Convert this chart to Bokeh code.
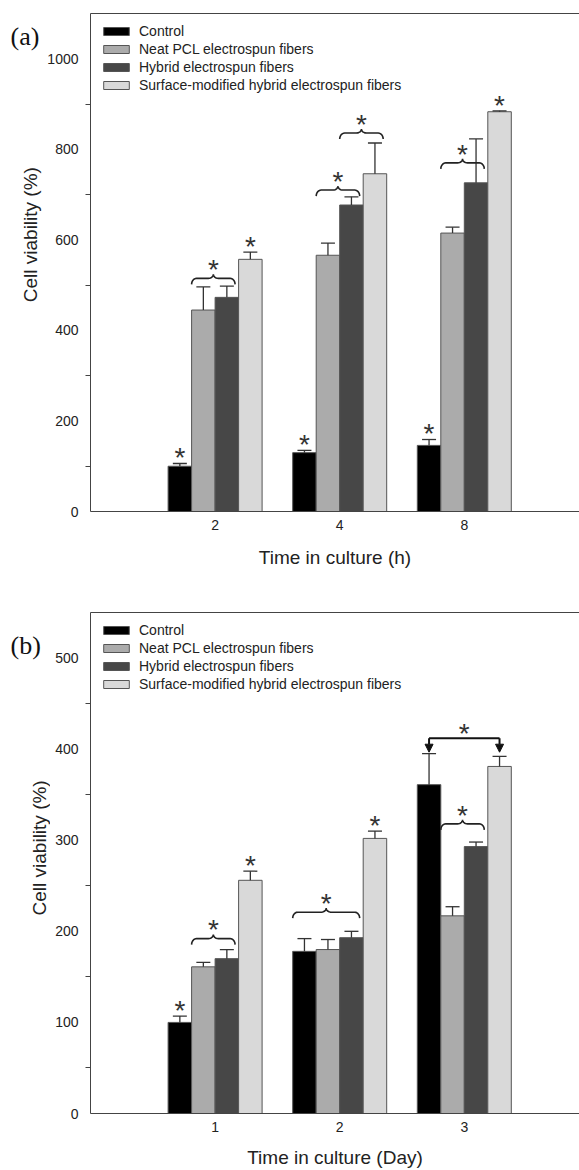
import numpy as np
from bokeh.plotting import figure
from bokeh.models import (FixedTicker, LinearAxis, Range1d, Legend, LegendItem,
                          Arrow, NormalHead)
from bokeh.layouts import column, row
from bokeh.embed import file_html
from bokeh.resources import INLINE
from bokeh.core.properties import value

# ---------------- data ----------------
series = ["Control", "Neat PCL electrospun fibers", "Hybrid electrospun fibers",
          "Surface-modified hybrid electrospun fibers"]
colors = ["#000000", "#ababab", "#474747", "#d9d9d9"]

a_times = ["2", "4", "8"]
a_control = [100, 130, 146]
a_control_err = [6, 5, 13]
a_neat = [445, 566, 615]
a_neat_err = [51, 27, 13]
a_hybrid = [473, 677, 726]
a_hybrid_err = [25, 18, 97]
a_surface = [557, 746, 883]
a_surface_err = [16, 68, 2]

b_days = ["1", "2", "3"]
b_control = [100, 178, 361]
b_control_err = [7, 14, 34]
b_neat = [161, 180, 217]
b_neat_err = [5, 11, 10]
b_hybrid = [170, 193, 293]
b_hybrid_err = [10, 7, 5]
b_surface = [256, 302, 381]
b_surface_err = [10, 8, 11]

# significance annotations: (group, first bar, last bar, brace level)
a_braces = [(0, 1, 2, 515), (1, 1, 2, 710), (1, 2, 3, 836), (2, 1, 2, 770)]
a_stars = [(0, 0), (1, 0), (2, 0), (0, 3), (2, 3)]
b_braces = [(0, 1, 2, 192), (1, 0, 2, 221), (2, 1, 2, 318)]
b_stars = [(0, 0), (0, 3), (1, 3)]
b_arrows = [(2, 0, 3, 412)]

y_title = "Cell viability (%)"

FONT = "Liberation Sans"
PX_PER_CAT = 124.6
FW = 489
BW_PX = 23.5


def brace_path(x0, x1, y, dx, dy):
    t = np.linspace(0, np.pi / 2, 8)
    xm = (x0 + x1) / 2
    he, hm, r = 6 * dy, 4 * dy, 5 * dx
    xs, ys = [], []
    xs += list(x0 + r * (1 - np.cos(t))); ys += list(y - he * (1 - np.sin(t)))
    xs += list(xm - r + r * np.sin(t)); ys += list(y + hm * (1 - np.cos(t)))
    xs += list(xm + r - r * np.sin(t[::-1])); ys += list(y + hm * (1 - np.cos(t[::-1])))
    xs += list(x1 - r * (1 - np.cos(t[::-1]))); ys += list(y - he * (1 - np.sin(t[::-1])))
    return xs, ys


def make_side(letter, W, H, letter_xy, title_xy):
    s = figure(width=W, height=H, x_range=Range1d(0, W), y_range=Range1d(0, H),
               output_backend="svg", toolbar_location=None,
               min_border_left=0, min_border_right=0, min_border_top=0, min_border_bottom=0)
    s.axis.visible = False
    s.xgrid.grid_line_color = None
    s.ygrid.grid_line_color = None
    s.outline_line_color = None
    lx, ly = letter_xy
    s.text(x=[lx], y=[H - ly], text=[letter], text_font=value("Liberation Serif"),
           text_font_size="26px", text_color="#111111", text_align="left",
           text_baseline="middle")
    tx, ty = title_xy
    s.text(x=[tx], y=[H - ty], text=[y_title], text_font=value(FONT),
           text_font_size="19px", text_color="#222222", text_align="center",
           text_baseline="middle", angle=np.pi / 2)
    return s


def make_panel(cats, vals, errs, ymax, major, minor, xlabel,
               braces, stars, arrows, frame_h, left_b, top_b, bottom_b, xlab_standoff):
    x_end = FW / PX_PER_CAT
    p = figure(frame_width=FW, frame_height=frame_h,
               x_range=Range1d(0, x_end), y_range=Range1d(0, ymax),
               output_backend="svg", toolbar_location=None,
               min_border_left=left_b, min_border_right=0,
               min_border_top=top_b, min_border_bottom=bottom_b)
    p.xgrid.grid_line_color = None
    p.ygrid.grid_line_color = None
    p.outline_line_color = None
    dx = x_end / FW
    dy = ymax / frame_h
    bw = BW_PX * dx

    def cx(g, s):
        return g + 1 + (s - 1.5) * bw

    items = []
    for s in range(4):
        xs = [cx(g, s) for g in range(3)]
        r = p.vbar(x=xs, top=vals[s], width=bw, fill_color=colors[s],
                   line_color="#555555", line_width=1)
        items.append(LegendItem(label=series[s], renderers=[r]))
        tops = [v + e for v, e in zip(vals[s], errs[s])]
        p.segment(x0=xs, y0=vals[s], x1=xs, y1=tops, line_color="#333333", line_width=1.3)
        cap = 7 * dx
        p.segment(x0=[x - cap for x in xs], y0=tops, x1=[x + cap for x in xs], y1=tops,
                  line_color="#333333", line_width=1.3)

    star_x, star_y = [], []
    for g, s in stars:
        star_x.append(cx(g, s))
        star_y.append(vals[s][g] + errs[s][g] + 12 * dy)
    bxs, bys = [], []
    for g, s0, s1, yb in braces:
        x0 = cx(g, s0) - 0.5 * bw
        x1 = cx(g, s1) + 0.35 * bw
        xs, ys = brace_path(x0, x1, yb, dx, dy)
        bxs.append(xs); bys.append(ys)
        star_x.append((x0 + x1) / 2)
        star_y.append(yb + 15 * dy)
    if bxs:
        p.multi_line(xs=bxs, ys=bys, line_color="#222222", line_width=1.6)
    for g, s0, s1, ya in arrows:
        xa, xb = cx(g, s0), cx(g, s1)
        p.line(x=[xa, xb], y=[ya, ya], line_color="#111111", line_width=2)
        for xx in (xa, xb):
            p.add_layout(Arrow(end=NormalHead(size=8, fill_color="#111111", line_color="#111111"),
                               x_start=xx, y_start=ya, x_end=xx, y_end=ya - 14 * dy,
                               line_color="#111111", line_width=2))
        star_x.append((xa + xb) / 2)
        star_y.append(ya + 11 * dy)
    fs = 28
    p.text(x=star_x, y=star_y, text=["*"] * len(star_x), text_font=value(FONT),
           text_font_size=f"{fs}px", text_color="#333333", text_align="center",
           text_baseline="alphabetic", y_offset=0.58 * fs - 10)

    legend = Legend(items=items, location="top_left", border_line_color=None,
                    background_fill_alpha=0, glyph_width=32, glyph_height=10,
                    label_text_font=FONT, label_text_font_size="14px",
                    label_text_color="#222222", label_height=12, spacing=2,
                    padding=12, margin=10, label_standoff=7)
    p.add_layout(legend)

    # axes
    p.yaxis.ticker = FixedTicker(ticks=major, minor_ticks=minor)
    p.yaxis.major_tick_out = 0
    p.yaxis.major_tick_in = 0
    p.yaxis.minor_tick_out = 5
    p.yaxis.minor_tick_in = 0
    p.yaxis.minor_tick_line_color = "#444444"
    p.yaxis.axis_line_color = "#444444"
    p.yaxis.major_label_text_font = FONT
    p.yaxis.major_label_text_font_size = "14px"
    p.yaxis.major_label_text_color = "#222222"
    p.yaxis.major_label_standoff = 7

    p.xaxis.ticker = FixedTicker(ticks=[1, 2, 3], minor_ticks=[])
    p.xaxis.major_label_overrides = {i + 1: c for i, c in enumerate(cats)}
    p.xaxis.major_tick_out = 0
    p.xaxis.major_tick_in = 0
    p.xaxis.axis_line_color = "#444444"
    p.xaxis.major_label_text_font = FONT
    p.xaxis.major_label_text_font_size = "14px"
    p.xaxis.major_label_text_color = "#222222"
    p.xaxis.major_label_standoff = 8
    p.xaxis.axis_label = xlabel
    p.xaxis.axis_label_text_font = FONT
    p.xaxis.axis_label_text_font_size = "19px"
    p.xaxis.axis_label_text_font_style = "normal"
    p.xaxis.axis_label_text_color = "#222222"
    p.xaxis.axis_label_standoff = xlab_standoff

    top_axis = LinearAxis(ticker=FixedTicker(ticks=[], minor_ticks=[]),
                          major_label_text_font_size="0px", axis_line_color="#444444",
                          major_tick_out=0, minor_tick_out=0, major_label_standoff=0)
    p.add_layout(top_axis, "above")
    return p


HA = 13 + 498 + 79
HB = 22 + 501 + 57
SIDE_A, LEFT_A = 42, 48
SIDE_B, LEFT_B = 50, 40
fa = make_panel(a_times, [a_control, a_neat, a_hybrid, a_surface],
                [a_control_err, a_neat_err, a_hybrid_err, a_surface_err],
                1100, [0, 200, 400, 600, 800, 1000], [100, 300, 500, 700, 900],
                "Time in culture (h)", a_braces, a_stars, [],
                498, LEFT_A, 13, 79, 14)
fb = make_panel(b_days, [b_control, b_neat, b_hybrid, b_surface],
                [b_control_err, b_neat_err, b_hybrid_err, b_surface_err],
                550, [0, 100, 200, 300, 400, 500], [50, 150, 250, 350, 450],
                "Time in culture (Day)", b_braces, b_stars, b_arrows,
                501, LEFT_B, 22, 57, 12)
sa = make_side("(a)", SIDE_A, HA, (10, 27), (30, 13 + 498 / 2))
sb = make_side("(b)", SIDE_B, HB, (10, 38), (39, 22 + 501 / 2))

layout = column(row(sa, fa, spacing=0), row(sb, fb, spacing=0), spacing=0)
open("out.html", "w").write(file_html(layout, INLINE))
